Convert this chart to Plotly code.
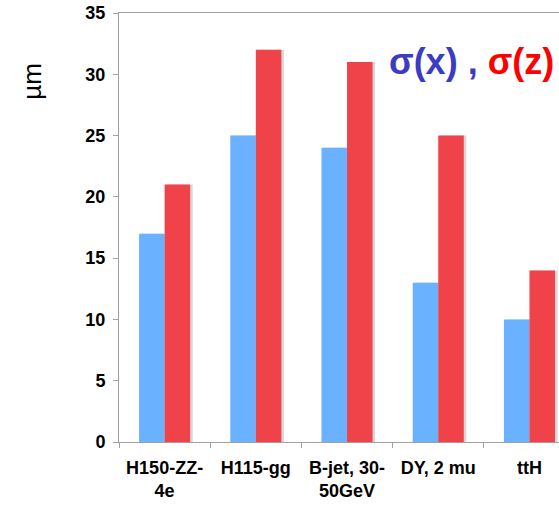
import plotly.graph_objects as go

# Sample labels and vertex resolutions (µm)
categories = ["H150-ZZ-<br>4e", "H115-gg", "B-jet, 30-<br>50GeV", "DY, 2 mu", "ttH"]
sigma_x = [17, 25, 24, 13, 10]
sigma_z = [21, 32, 31, 25, 14]
y_ticks = [0, 5, 10, 15, 20, 25, 30, 35]

FONT = "Liberation Sans"
BAR_W = 0.28        # width of one bar, in category units
SHADOW_DX = 0.028   # horizontal shift of the drop shadow
SHADOW = "rgba(0,0,0,0.16)"

fig = go.Figure()
# soft drop shadows, drawn underneath the bars
for vals, off in ((sigma_x, -BAR_W), (sigma_z, 0.0)):
    fig.add_trace(go.Bar(x=categories, y=vals, width=BAR_W, offset=off + SHADOW_DX,
                         marker=dict(color=SHADOW, line=dict(width=0)),
                         hoverinfo="skip", showlegend=False))
fig.add_trace(go.Bar(x=categories, y=sigma_x, name="σ(x)", width=BAR_W, offset=-BAR_W,
                     marker=dict(color="#6AB2FF", line=dict(width=0))))
fig.add_trace(go.Bar(x=categories, y=sigma_z, name="σ(z)", width=BAR_W, offset=0.0,
                     marker=dict(color="#F04349", line=dict(width=0))))

fig.update_layout(
    width=559, height=505,
    margin=dict(l=119, r=0, t=13, b=63),
    paper_bgcolor="white", plot_bgcolor="white",
    barmode="overlay",
    showlegend=False,
    font=dict(family=FONT, color="black"),
)
fig.update_xaxes(
    type="category", range=[-0.5, 4.324],
    showline=True, linecolor="#A0A0A0", linewidth=1, mirror=True,
    ticks="outside", tickson="boundaries", ticklen=5, tickcolor="#A0A0A0",
    showgrid=False, ticklabelstandoff=9,
    tickfont=dict(size=18, family=FONT, color="black", weight="bold"),
)
fig.update_yaxes(
    range=[0, 35], tickvals=y_ticks,
    showline=True, linecolor="#A0A0A0", linewidth=1,
    ticks="outside", ticklen=5, tickcolor="#A0A0A0",
    showgrid=False, zeroline=False, ticklabelstandoff=4,
    tickfont=dict(size=18, family=FONT, color="black", weight="bold"),
)

fig.add_annotation(xref="paper", yref="paper", x=-0.198, y=0.842,
                   xanchor="center", yanchor="middle",
                   text="µm", showarrow=False, textangle=-90,
                   font=dict(size=26, family=FONT, color="black"))
fig.add_annotation(xref="paper", yref="paper", x=0.993, y=0.887,
                   xanchor="right", yanchor="middle", showarrow=False,
                   text="<span style='color:#3B3BC4'>σ(x)</span> , "
                        "<span style='color:#FF0000'>σ(z)</span>",
                   font=dict(size=36, family=FONT, color="#3B3BC4", weight="bold"))

fig.write_html("out.html")
